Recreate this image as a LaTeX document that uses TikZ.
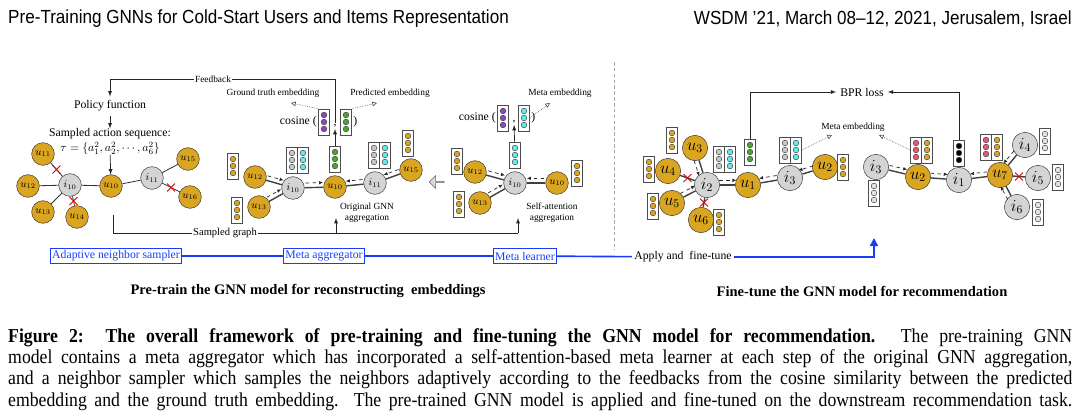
\documentclass[tikz,border=0pt]{standalone}
\usepackage{fontspec}
\setmainfont{Liberation Serif}
\newfontfamily\headfont[FakeStretch=0.9]{Liberation Sans}
\newfontfamily\capfont[FakeStretch=0.9]{Liberation Serif}
\usetikzlibrary{positioning,calc,arrows.meta,shapes.misc,shapes.arrows}

\definecolor{usergold}{RGB}{218,165,32}
\definecolor{itemgray}{RGB}{212,212,212}
\definecolor{embgray}{RGB}{200,200,200}
\definecolor{embpurple}{RGB}{140,70,190}
\definecolor{embgreen}{RGB}{70,170,40}
\definecolor{embcyan}{RGB}{95,238,238}
\definecolor{embpink}{RGB}{236,85,115}
\definecolor{linkblue}{RGB}{25,60,250}

% embedding vector: a box with three dots
\newcommand{\embvec}[3]{%
  \node[embbox] (#1) at (#2) {};
  \foreach \k in {-7,0,7}
    \filldraw[draw=black!75, line width=0.4pt, fill=#3] ($(#1.center)+(0,\k)$) circle (0.085cm);
}

% dashed message arrow beside an edge
\newcommand{\msg}[3][90]{%
  \draw[message] ($(#2)!0.3!(#3)!4pt!#1:(#3)$) -- ($(#2)!0.72!(#3)!4pt!#1:(#3)$);
}

\begin{document}
\begin{tikzpicture}[
  x=0.03cm, y=-0.03cm,
  user/.style={circle, draw=black!80, fill=usergold, inner sep=0pt, minimum size=0.68cm, font=\small},
  item/.style={user, fill=itemgray},
  biguser/.style={user, minimum size=0.76cm, font=\Large},
  bigitem/.style={biguser, fill=itemgray},
  thinedge/.style={line width=0.7pt, black!80},
  edge/.style={line width=1.2pt, black!75},
  message/.style={dashed, black!85, line width=0.6pt, -{Latex[length=3.5pt,width=3pt]}},
  hint/.style={densely dotted, black!70, line width=0.5pt, -{Triangle[open,length=4pt,width=4pt]}},
  flow/.style={black!85, line width=0.6pt},
  cutmark/.style={cross out, draw=red!85!black, line width=0.8pt, minimum size=6pt, inner sep=0pt},
  embbox/.style={rectangle, draw=black!70, fill=white, line width=0.6pt, minimum width=0.33cm, minimum height=0.78cm, inner sep=0pt},
  lbl/.style={font=\footnotesize, inner sep=1pt},
  bluebox/.style={draw=linkblue, text=linkblue, line width=0.9pt, inner sep=1.5pt, minimum height=0.45cm},
  bluelink/.style={linkblue, line width=1.4pt},
  headline/.style={font=\headfont\fontsize{16.2}{19}\selectfont, inner sep=0pt},
  parttitle/.style={font=\fontsize{12.4}{14}\selectfont\bfseries},
  caption/.style={text width=31.92cm, align=justify, inner sep=0pt, font=\capfont\fontsize{16.8}{18.2}\selectfont}
  ]
  \useasboundingbox (0,0) rectangle (1080,419);

  % Header
  \node[headline, anchor=west] (title) at (8,19) {Pre-Training GNNs for Cold-Start Users and Items Representation};
  \node[headline, anchor=east] (venue) at (1072,19) {WSDM ’21, March 08–12, 2021, Jerusalem, Israel};

  % Adaptive neighbor sampler
  \node (policy) at (110,106) {Policy function};
  \node[inner sep=0pt] (actions) at (110,134) {Sampled action sequence:};
  \node[inner sep=0pt, below=2pt of actions] (tau) {$\tau=\{a_1^2, a_2^2,\cdots, a_6^2\}$};
  \node[user] (lu11) at (43,154) {$u_{11}$};
  \node[user] (lu12) at (28,186) {$u_{12}$};
  \node[item] (li10) at (70,185) {$i_{10}$};
  \node[user] (lu13) at (43,212) {$u_{13}$};
  \node[user] (lu14) at (77,217) {$u_{14}$};
  \node[user] (lu10) at (111,186) {$u_{10}$};
  \node[item] (li11) at (152,178) {$i_{11}$};
  \node[user] (lu15) at (188,159) {$u_{15}$};
  \node[user] (lu16) at (190,197) {$u_{16}$};
  \foreach \a/\b in {lu11/li10, lu12/li10, lu13/li10, lu14/li10, li10/lu10, lu10/li11, li11/lu15, li11/lu16}
    \draw[thinedge] (\a) -- (\b);
  \foreach \a/\b [count=\n] in {lu11/li10, lu14/li10, li11/lu16}
    \node[cutmark] (lcut\n) at ($(\a)!0.5!(\b)$) {};
  \draw[flow, -latex] (policy) -- (actions);
  \draw[flow, -latex] (tau) -- (lu10);

  % Original GNN aggregation
  \node[user] (mu12) at (255,177) {$u_{12}$};
  \node[user] (mu13) at (259,207) {$u_{13}$};
  \node[item] (mi10) at (293,188) {$i_{10}$};
  \node[user] (mu10) at (335,187) {$u_{10}$};
  \node[item] (mi11) at (375,183) {$i_{11}$};
  \node[user] (mu15) at (411,170) {$u_{15}$};
  \foreach \a/\b in {mu12/mi10, mu13/mi10, mi10/mu10, mu10/mi11, mi11/mu15}
    \draw[edge] (\a) -- (\b);
  \msg{mu12}{mi10} \msg{mu13}{mi10} \msg{mi10}{mu10} \msg[-90]{mi11}{mu10} \msg[-90]{mu15}{mi11}
  \embvec{mu12emb}{233,166}{usergold}
  \embvec{mu13emb}{237,210}{usergold}
  \embvec{mi10emba}{292,160}{embgray}
  \embvec{mi10embb}{303,160}{embcyan}
  \embvec{mu10emb}{335,159}{embgreen}
  \embvec{mi11emba}{374,155}{embgray}
  \embvec{mi11embb}{385,155}{embcyan}
  \embvec{mu15emb}{408,143}{usergold}
  \node[lbl, align=center] (origagg) at (367,213) {Original GNN\\aggregation};

  % cosine of ground truth and predicted
  \embvec{mtruth}{324,122}{embpurple}
  \embvec{mpred}{346,122}{embgreen}
  \node[inner sep=1pt] (mcomma) at (335,126) {,};
  \node[anchor=east, inner sep=1pt] (mcos) at (mtruth.west) {cosine (};
  \node[anchor=west, inner sep=1pt] (mclose) at (mpred.east) {)};
  \node[lbl] (gtlabel) at (273,93) {Ground truth embedding};
  \node[lbl] (pdlabel) at (390,93) {Predicted embedding};
  \coordinate (gttip) at (291,103);
  \coordinate (pdtip) at (377,103);
  \draw[hint] (mtruth.north west) -- (gttip);
  \draw[hint] (mpred.north east) -- (pdtip);
  \draw[flow, -latex] (mu10emb) -- (mcomma);

  % Feedback to the policy
  \node[lbl, fill=white] (feedback) at (213,79) {Feedback};
  \draw[flow] (mcomma.north) |- (feedback.east);
  \draw[flow, -latex] (feedback.west) -| (policy.north);

  % Self-attention aggregation
  \node[single arrow, shape border rotate=180, draw=black!60, fill=black!15, minimum height=0.45cm, minimum width=0.38cm, single arrow head extend=2pt, inner sep=0pt] (swap) at (437,182) {};
  \node[user] (su12) at (475,172) {$u_{12}$};
  \node[user] (su13) at (480,203) {$u_{13}$};
  \node[item] (si10) at (515,183) {$i_{10}$};
  \node[user] (su10) at (557,183) {$u_{10}$};
  \foreach \a/\b in {su12/si10, su13/si10, si10/su10}
    \draw[edge] (\a) -- (\b);
  \msg{su12}{si10} \msg{su13}{si10} \msg[-90]{su10}{si10}
  \embvec{su12emb}{457,161}{usergold}
  \embvec{su13emb}{459,204}{usergold}
  \embvec{si10emb}{515,155}{embcyan}
  \embvec{su10emb}{577,173}{usergold}
  \node[lbl, align=center] (selfagg) at (552,213) {Self-attention\\aggregation};
  \embvec{struth}{503,118}{embpurple}
  \embvec{smeta}{524,118}{embcyan}
  \node[inner sep=1pt] (scomma) at (514,122) {,};
  \node[anchor=east, inner sep=1pt] (scos) at (struth.west) {cosine (};
  \node[anchor=west, inner sep=1pt] (sclose) at (smeta.east) {)};
  \node[lbl] (metalabel) at (560,93) {Meta embedding};
  \coordinate (metatip) at (550,103);
  \draw[hint] (smeta.east) -- (metatip);
  \draw[flow, -latex] (si10emb) -- (scomma);

  % Sampled graph
  \coordinate (sgstart) at (113,215);
  \node[inner sep=1pt, font=\small] (sampled) at (225,233) {Sampled graph};
  \coordinate (sgmid) at (336,233);
  \coordinate (sgend) at (518,233);
  \coordinate (origtip) at (336,218);
  \coordinate (selftip) at (518,218);
  \draw[flow] (sgstart) |- (sampled.west);
  \draw[flow] (sampled.east) -- (sgend);
  \draw[flow, -latex] (sgmid) -- (origtip);
  \draw[flow, -latex] (sgend) -- (selftip);

  % Separator
  \draw[densely dashed, black!35, line width=0.8pt] (614,62) -- (614,250);

  % Fine-tune: first graph
  \node[biguser] (fu3) at (695,148) {$u_3$};
  \node[biguser] (fu4) at (668,171) {$u_4$};
  \node[bigitem] (fi2) at (707,185) {$i_2$};
  \node[biguser] (fu5) at (672,203) {$u_5$};
  \node[biguser] (fu6) at (701,220) {$u_6$};
  \node[biguser] (fu1) at (748,185) {$u_1$};
  \node[bigitem] (fi3) at (790,178) {$i_3$};
  \node[biguser] (fu2) at (825,167) {$u_2$};
  \foreach \a/\b in {fu3/fi2, fu4/fi2, fu5/fi2, fu6/fi2, fi2/fu1, fu1/fi3, fi3/fu2}
    \draw[edge] (\a) -- (\b);
  \foreach \a/\b [count=\n] in {fu4/fi2, fu6/fi2}
    \node[cutmark] (fcut\n) at ($(\a)!0.5!(\b)$) {};
  \msg[-90]{fu3}{fi2} \msg{fu5}{fi2} \msg{fi2}{fu1} \msg[-90]{fi3}{fu1} \msg[-90]{fu2}{fi3}
  \embvec{fu3emb}{672,140}{usergold}
  \embvec{fu4emb}{649,169}{usergold}
  \embvec{fu5emb}{653,206}{usergold}
  \embvec{fu6emb}{719,222}{usergold}
  \embvec{fi2emba}{719,159}{embgray}
  \embvec{fi2embb}{730,159}{embcyan}
  \embvec{fu1emb}{750,152}{embgreen}
  \embvec{fi3emba}{785,150}{embgray}
  \embvec{fi3embb}{796,150}{embcyan}
  \embvec{fu2emb}{843,167}{usergold}

  % Fine-tune: second graph
  \node[bigitem] (gi3) at (876,167) {$i_3$};
  \node[biguser] (gu2) at (918,177) {$u_2$};
  \node[bigitem] (gi1) at (959,180) {$i_1$};
  \node[biguser] (gu7) at (1000,175) {$u_7$};
  \node[bigitem] (gi4) at (1025,145) {$i_4$};
  \node[bigitem] (gi5) at (1038,178) {$i_5$};
  \node[bigitem] (gi6) at (1017,207) {$i_6$};
  \foreach \a/\b in {gi3/gu2, gu2/gi1, gi1/gu7, gu7/gi4, gu7/gi5, gu7/gi6}
    \draw[edge] (\a) -- (\b);
  \node[cutmark] (gcut) at ($(gu7)!0.5!(gi5)$) {};
  \msg{gi3}{gu2} \msg{gu2}{gi1} \msg[-90]{gu7}{gi1} \msg[-90]{gi4}{gu7} \msg{gi6}{gu7}
  \embvec{gi3emb}{874,193}{embgray!50}
  \embvec{gu2emba}{916,150}{embpink}
  \embvec{gu2embb}{927,150}{usergold}
  \embvec{gi1emb}{959,153}{black}
  \embvec{gu7emba}{986,147}{embpink}
  \embvec{gu7embb}{997,147}{usergold}
  \embvec{gi4emb}{1045,141}{embgray!50}
  \embvec{gi5emb}{1058,177}{embgray!50}
  \embvec{gi6emb}{1038,212}{embgray!50}

  % BPR loss and meta embedding
  \node (bpr) at (862,92) {BPR loss};
  \draw[flow, -latex] (fu1emb.north) |- (bpr.west);
  \draw[flow, -latex] (gi1emb.north) |- (bpr.east);
  \node[lbl] (metaright) at (853,127) {Meta embedding};
  \coordinate (mrtipl) at (832,135);
  \coordinate (mrtipr) at (879,135);
  \draw[hint] (fi3embb.east) -- (mrtipl);
  \draw[hint] (gu2emba.west) -- (mrtipr);

  % Modules along the blue line
  \node[bluebox] (sampler) at (116,256) {Adaptive neighbor sampler};
  \node[bluebox] (aggregator) at (324,256) {Meta aggregator};
  \node[bluebox] (learner) at (525,256) {Meta learner};
  \node[inner sep=2pt] (apply) at (683,257) {Apply and\ \ fine-tune};
  \coordinate (applytip) at (874,238);
  \draw[bluelink] (sampler) -- (aggregator);
  \draw[bluelink] (aggregator) -- (learner);
  \draw[bluelink] (learner) -- (apply);
  \draw[bluelink, -{Triangle[length=7pt,width=7pt]}] (apply) -| (applytip);

  % Titles of both parts
  \node[parttitle] (pretitle) at (308,291) {Pre-train the GNN model for reconstructing\ \ embeddings};
  \node[parttitle] (finetitle) at (862,291) {Fine-tune the GNN model for recommendation};

  % Figure caption
  \node[caption, anchor=north west] (figcap) at (8,328) {\textbf{Figure 2:\ \ The overall framework of pre-training and fine-tuning the GNN model for recommendation.} The pre-training GNN\linebreak model contains a meta aggregator which has incorporated a self-attention-based meta learner at each step of the original GNN aggregation,\linebreak and a neighbor sampler which samples the neighbors adaptively according to the feedbacks from the cosine similarity between the predicted\linebreak embedding and the ground truth embedding. The pre-trained GNN model is applied and fine-tuned on the downstream recommendation task.{\parfillskip=0pt\par}};
\end{tikzpicture}
\end{document}
